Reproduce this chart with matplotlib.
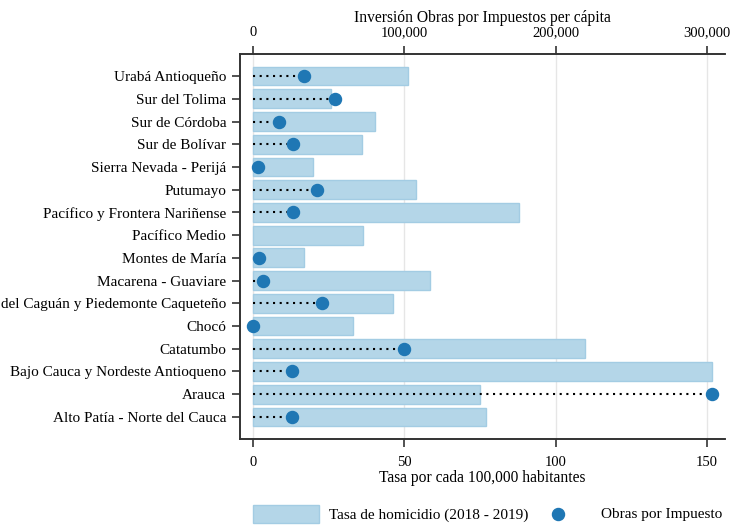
import numpy as np
import matplotlib.pyplot as plt

plt.rcParams['font.family'] = ['Liberation Serif', 'DejaVu Serif']

regiones = ["Urabá Antioqueño", "Sur del Tolima", "Sur de Córdoba", "Sur de Bolívar",
            "Sierra Nevada - Perijá", "Putumayo", "Pacífico y Frontera Nariñense",
            "Pacífico Medio", "Montes de María", "Macarena - Guaviare",
            "del Caguán y Piedemonte Caqueteño", "Chocó", "Catatumbo",
            "Bajo Cauca y Nordeste Antioqueno", "Arauca", "Alto Patía - Norte del Cauca"]
# tasa de homicidio por 100,000 hab (2018-2019)
tasa = [51.2, 25.7, 40.3, 36.0, 19.8, 53.8, 87.7, 36.3, 16.8, 58.3, 46.1, 33.0,
        109.8, 151.7, 75.1, 77.1]
# obras por impuestos per capita (nan = sin dato)
obras = [33700, 54000, 17200, 26400, 3300, 42200, 26400, np.nan, 4000, 6600,
         45600, 0, 99800, 25800, 303400, 25800]

y = np.arange(len(regiones))
col_bar = '#b4d6e8'
col_dot = '#1f77b4'
spine_c = '#333333'

fig = plt.figure(figsize=(7.32, 5.27), dpi=100)
ax = fig.add_axes([0.328, 0.167, 0.662, 0.7305])
bars = ax.barh(y, tasa, height=0.83, color=col_bar, edgecolor='#a3cce3', linewidth=1,
               label='Tasa de homicidio (2018 - 2019)', zorder=2)
ax.set_xlim(-4.3, 155.8)
ax.set_ylim(len(regiones) - 1 + 0.97, -0.97)
ax.set_xticks([0, 50, 100, 150])
ax.set_yticks(y)
ax.set_yticklabels(regiones, fontsize=11)
ax.grid(axis='x', color='#e6e6e6', linewidth=1, zorder=0)
ax.set_axisbelow(True)
ax.set_xlabel('Tasa por cada 100,000 habitantes', fontsize=11.2, labelpad=1)
ax.tick_params(axis='x', labelsize=10.5, length=6, width=1.2, color=spine_c, pad=6)
ax.tick_params(axis='y', length=6, width=1.2, color=spine_c, pad=4)

ax2 = ax.twiny()
ax2.set_xlim(-4.3 * 2000, 155.8 * 2000)
ax2.hlines(y, 0, obras, colors='black', linestyles=(0, (1, 2.2)), linewidth=1.5, zorder=3)
dots = ax2.scatter(obras, y, s=75, color=col_dot, zorder=4, label='Obras por Impuesto')
ax2.set_xticks([0, 100000, 200000, 300000])
ax2.set_xticklabels(['0', '100,000', '200,000', '300,000'])
ax2.set_xlabel('Inversión Obras por Impuestos per cápita', fontsize=11.2, labelpad=3)
ax2.tick_params(axis='x', labelsize=10.5, length=6, width=1.2, color=spine_c, pad=5)

for a in (ax, ax2):
    a.spines['right'].set_visible(False)
    for s in ('left', 'top', 'bottom'):
        a.spines[s].set_color(spine_c)
        a.spines[s].set_linewidth(1.2)

fig.legend([bars], ['Tasa de homicidio (2018 - 2019)'], loc='center left',
           bbox_to_anchor=(253 / 732, 1 - 514 / 527), frameon=False, fontsize=11,
           handlelength=4.3, handleheight=1.4, handletextpad=0.7,
           borderpad=0, borderaxespad=0)
fig.legend([dots], ['Obras por Impuesto'], loc='center left',
           bbox_to_anchor=(543 / 732, 1 - 514 / 527), frameon=False, fontsize=11,
           handlelength=2.0, handletextpad=1.8, borderpad=0, borderaxespad=0)

fig.savefig('out.png', dpi=100)
